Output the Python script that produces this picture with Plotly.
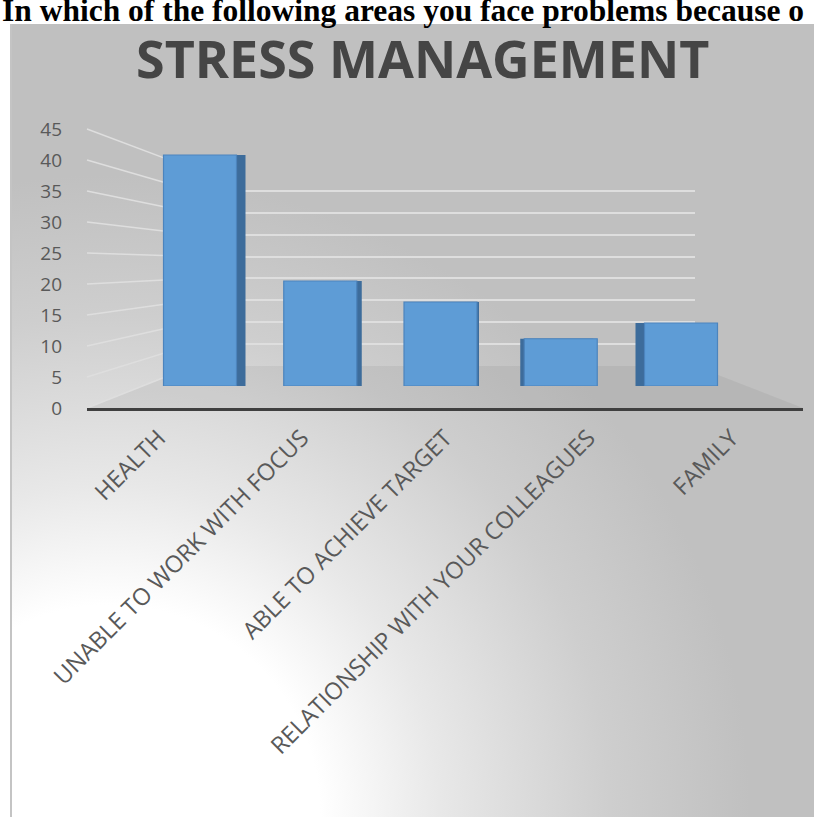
import plotly.graph_objects as go

# ---------------- data ----------------
categories = ["HEALTH", "UNABLE TO WORK WITH FOCUS", "ABLE TO ACHIEVE TARGET",
              "RELATIONSHIP WITH YOUR COLLEAGUES", "FAMILY"]
values = [44, 20, 16, 9, 12]
tick_values = [0, 5, 10, 15, 20, 25, 30, 35, 40, 45]
chart_title = "STRESS MANAGEMENT"
heading = "In which of the following areas you face problems because o"

# ---------------- geometry helpers (pixels -> paper) ----------------
W, H = 814, 817
def fx(px):
    return px / W
def fy(px):
    return 1 - px / H

BOX_L, BOX_T = 11, 24           # chart box (gray area)
FRONT0, FRONT_S = 408.0, 6.2    # front (label) scale: pixel of 0, px per unit
BACK0, BACK_S = 366.0, 4.38     # back wall scale
BAR0, BAR_S = 386.0, 5.25       # bar front-face scale
CORNER_X = 193
FRONT_L, FRONT_R = 87, 803
BACK_R = 695

fig = go.Figure()

# ---- background (pixel coordinate subplot xy) ----
cx, cy, R = 110, 815, 1000
fig.add_trace(go.Scatter(
    x=[cx - R, cx + R, cx + R, cx - R, cx - R],
    y=[cy - R, cy - R, cy + R, cy + R, cy - R],
    mode="lines", fill="toself", line=dict(width=0),
    fillgradient=dict(type="radial",
                      colorscale=[[0, "#ffffff"], [0.21, "#ffffff"], [0.33, "#e8e8e8"],
                                  [0.5, "#cecece"], [0.64, "#c0c0c0"], [1, "#c0c0c0"]]),
    hoverinfo="skip", showlegend=False, xaxis="x", yaxis="y"))

# floor of the 3-D plot area
fig.add_trace(go.Scatter(
    x=[FRONT_L, FRONT_R, BACK_R, CORNER_X, FRONT_L],
    y=[FRONT0, FRONT0, BACK0, BACK0, FRONT0],
    mode="lines", fill="toself", fillcolor="rgba(0,0,0,0.05)", line=dict(width=0),
    hoverinfo="skip", showlegend=False, xaxis="x", yaxis="y"))

# side-wall gridlines (from the front tick positions to the back corner)
sx, sy = [], []
for v in tick_values:
    sx += [FRONT_L, CORNER_X, None]
    sy += [FRONT0 - FRONT_S * v, BACK0 - BACK_S * v, None]
fig.add_trace(go.Scatter(x=sx, y=sy, mode="lines",
                         line=dict(color="#dedede", width=1.5),
                         hoverinfo="skip", showlegend=False, xaxis="x", yaxis="y"))

# ---- back wall grid (x2y2) ----
fig.add_trace(go.Scatter(x=[None], y=[None], xaxis="x2", yaxis="y2",
                         showlegend=False, hoverinfo="skip"))

# ---- bars (x3y3) ----
slot = (681 - 200) / 4.0
bw = 73 / slot
side_shift = [9, 5, 2, -4, -9]
fig.add_trace(go.Bar(
    x=categories, y=values, width=bw,
    offset=[-bw / 2 + d / slot for d in side_shift],
    marker=dict(color="#3d6c9b", line=dict(width=0)),
    hoverinfo="skip", showlegend=False, xaxis="x3", yaxis="y3"))
fig.add_trace(go.Bar(
    x=categories, y=values, width=bw, offset=-bw / 2,
    marker=dict(color="#5e9cd6", line=dict(color="#4c84bd", width=1.2)),
    showlegend=False, xaxis="x3", yaxis="y3"))

# ---- front axes (x4y4) ----
fig.add_trace(go.Scatter(x=categories, y=[None] * len(categories), xaxis="x4", yaxis="y4",
                         showlegend=False, hoverinfo="skip"))

label_color = "#595959"
hidden = dict(visible=False, automargin=False, showgrid=False, zeroline=False, fixedrange=True)
fig.update_layout(
    template="none",
    width=W, height=H,
    margin=dict(l=0, r=0, t=0, b=0, pad=0, autoexpand=False),
    paper_bgcolor="white", plot_bgcolor="rgba(0,0,0,0)",
    showlegend=False, barmode="overlay",
    xaxis=dict(domain=[fx(BOX_L), 1], range=[BOX_L, W], **hidden),
    yaxis=dict(domain=[0, fy(BOX_T)], range=[H, BOX_T], **hidden),
    xaxis2=dict(domain=[fx(CORNER_X), fx(BACK_R)], range=[0, 1], anchor="y2",
                automargin=False, showgrid=False, zeroline=False,
                showticklabels=False, showline=False, ticks=""),
    yaxis2=dict(domain=[fy(BACK0), fy(BACK0 - BACK_S * 45)], range=[0, 45], anchor="x2",
                automargin=False, tickvals=tick_values, showgrid=True,
                gridcolor="#dedede", gridwidth=1.5,
                zeroline=False, showticklabels=False, showline=False, ticks=""),
    xaxis3=dict(domain=[fx(200 - slot / 2), fx(681 + slot / 2)], type="category",
                range=[-0.5, 4.5], anchor="y3", **hidden),
    yaxis3=dict(domain=[fy(BAR0), fy(BAR0 - BAR_S * 45)], range=[0, 45], anchor="x3",
                **hidden),
    xaxis4=dict(domain=[fx(FRONT_L), fx(FRONT_R)], type="category", range=[-0.5, 4.5],
                anchor="y4", automargin=False, showline=True, linecolor="#3f3f3f",
                linewidth=3, showgrid=False, zeroline=False, ticks="", tickangle=-45,
                ticklabelstandoff=4,
                tickfont=dict(family="Open Sans", size=23.5, color=label_color)),
    yaxis4=dict(domain=[fy(FRONT0), fy(FRONT0 - FRONT_S * 45)], range=[0, 45],
                anchor="free", position=fx(62), tickvals=tick_values, automargin=False,
                showgrid=False, zeroline=False, showline=False, ticks="",
                tickfont=dict(family="Open Sans", size=19, color=label_color)),
)

# title and heading
fig.add_annotation(text=chart_title, xref="paper", yref="paper", x=fx(422), y=fy(57),
                   xanchor="center", yanchor="middle", showarrow=False,
                   font=dict(family="Open Sans", size=52, color="#454545", weight="bold"))
fig.add_annotation(text=heading, xref="paper", yref="paper", x=fx(1), y=fy(29),
                   xanchor="left", yanchor="bottom", showarrow=False, borderpad=0,
                   font=dict(family="Liberation Serif", size=31.5, color="#000000", weight="bold"))

# left border of the chart box
fig.add_shape(type="line", xref="paper", yref="paper", x0=fx(BOX_L), x1=fx(BOX_L),
              y0=0, y1=fy(BOX_T), line=dict(color="#c4c4c4", width=2), layer="above")

fig.write_html("out.html", config={"displayModeBar": False})
